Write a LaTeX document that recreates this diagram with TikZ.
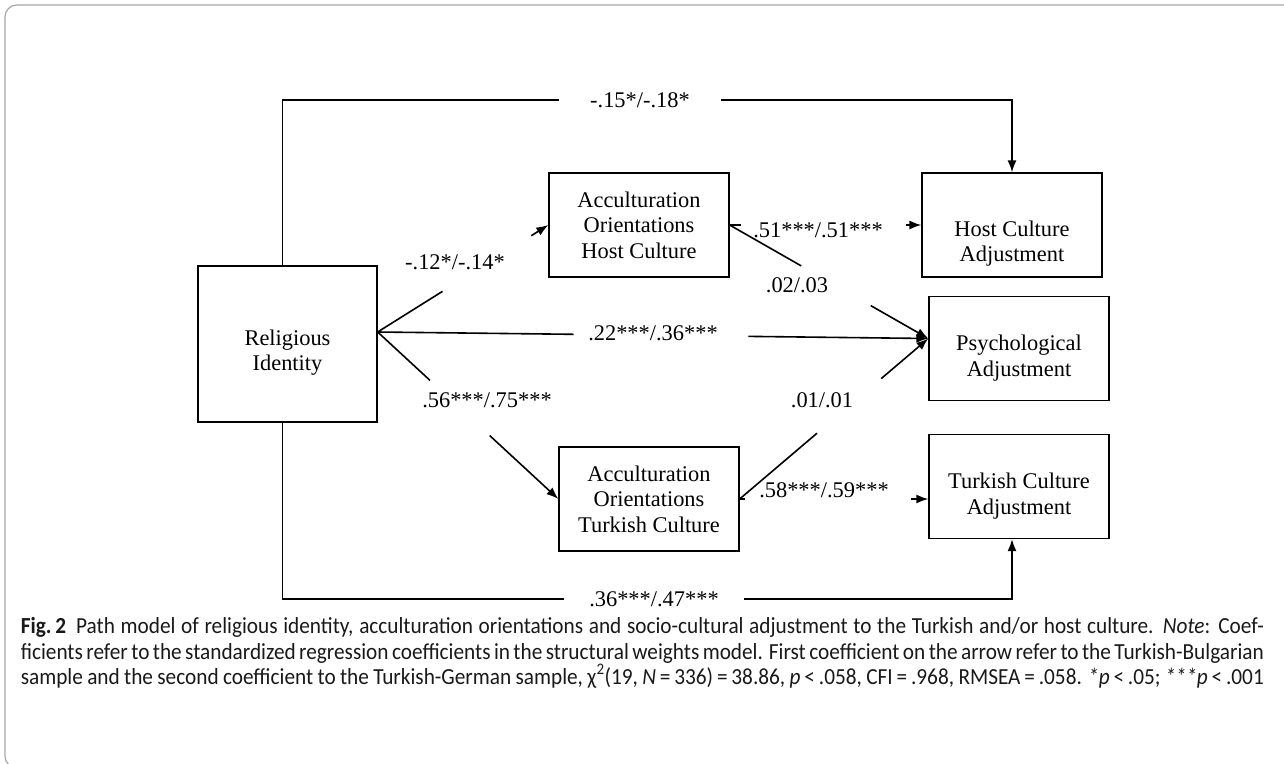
\documentclass[tikz,border=0pt]{standalone}
\usepackage{fontspec}
\setmainfont{Liberation Serif}
\newfontfamily\capfont[FakeStretch=0.925]{Carlito}
\usetikzlibrary{arrows.meta,calc}

\tikzset{
  var/.style={rectangle, draw, line width=1.3pt, align=center,
    minimum width=180pt, minimum height=104pt, inner sep=0pt},
  coef/.style={inner sep=0pt},
  arr/.style={-{Latex[length=12pt,width=9pt]}},
  capline/.style={anchor=base west, inner sep=0pt, text=black!90,
    font=\capfont\fontsize{23}{25}\selectfont}
}

\begin{document}
\begin{tikzpicture}[x=1pt, y=-1pt, line width=1.6pt,
    font=\fontsize{22.4}{25.5}\selectfont]
    \useasboundingbox (0,0) rectangle (1284,763);
    \draw[gray!70, line width=1.2pt, rounded corners=12pt] (5,5) rectangle (1300,768);

    \node[var, minimum width=179pt, minimum height=156pt] (ri) at (287.5,344) {\rule{0pt}{33pt}Religious\\Identity};
    \node[var] (ah) at (639,225) {Acculturation\\Orientations\\Host Culture};
    \node[var] (at) at (649,499) {Acculturation\\Orientations\\Turkish Culture};
    \node[var] (ha) at (1012,225) {\rule{0pt}{53pt}Host Culture\\Adjustment};
    \node[var] (psy) at (1019,348.5) {\rule{0pt}{35pt}Psychological\\Adjustment};
    \node[var] (ta) at (1019,486.5) {\rule{0pt}{35pt}Turkish Culture\\Adjustment};

    \coordinate (fan) at ($(ri.east)+(0,-12)$);
    \coordinate (pin) at ($(psy.west)+(0,-10)$);
    \coordinate (hain) at (ah.east -| ha.west);
    \coordinate (tain) at (at.east -| ta.west);

    \node[coef] (l12) at (455,262) {-.12*/-.14*};
    \node[coef] (l22) at (653,333) {.22***/.36***};
    \node[coef] (l56) at (487,400) {.56***/.75***};
    \node[coef] (l51) at (818,230) {.51***/.51***};
    \node[coef] (l02) at (797,285) {.02/.03};
    \node[coef] (l01) at (822,400) {.01/.01};
    \node[coef] (l58) at (824,490) {.58***/.59***};
    \node[coef, inner xsep=30pt] (lt) at (640,100) {-.15*/-.18*};
    \node[coef, inner xsep=24pt] (lb) at (654,599) {.36***/.47***};

    \draw (fan) -- ($(fan)!.38!(ah.west)$);
    \draw[arr] ($(fan)!.9!(ah.west)$) -- (ah.west);
    \draw (fan) -- ($(fan)!.356!(pin)$);
    \draw[arr] ($(fan)!.673!(pin)$) -- (pin);
    \draw (fan) -- ($(fan)!.29!(at.west)$);
    \draw[arr] ($(fan)!.62!(at.west)$) -- (at.west);

    \draw (ah.east) -- ($(ah.east)!.06!(hain)$);
    \draw[arr] ($(ah.east)!.92!(hain)$) -- (hain);
    \draw (ah.east) -- ($(ah.east)!.36!(pin)$);
    \draw[arr] ($(ah.east)!.71!(pin)$) -- (pin);
    \draw (at.east) -- ($(at.east)!.41!(pin)$);
    \draw[arr] ($(at.east)!.75!(pin)$) -- (pin);
    \draw (at.east) -- ($(at.east)!.03!(tain)$);
    \draw[arr] ($(at.east)!.91!(tain)$) -- (tain);

    \draw ($(ri.north)+(-5,0)$) |- (lt);
    \draw[arr] (lt) -| (ha.north);
    \draw ($(ri.south)+(-5,0)$) |- (lb);
    \draw[arr] (lb) -| ($(ta.south)+(-7,0)$);

    \node[capline] (cap1) at (20,633) {\makebox[1243pt][s]{\mbox{\textbf{Fig.\,2}}\hspace{10pt}Path model of religious identity, acculturation orientations and socio-cultural adjustment to the Turkish and/or host culture. \textit{Note}: Coef-}};
    \node[capline] (cap2) at (20,659) {\makebox[1243pt][s]{ficients refer to the standardized regression coefficients in the structural weights model. First coefficient on the arrow refer to the Turkish-Bulgarian}};
    \node[capline] (cap3) at (20,684) {\makebox[1243pt][s]{sample and the second coefficient to the Turkish-German sample, χ\textsuperscript{2}(19, \textit{N}\,=\,336)\,=\,38.86, \textit{p}\,<\,.058, CFI\,=\,.968, RMSEA\,=\,.058. \textit{*p}\,<\,.05; \textit{***p}\,<\,.001}};
\end{tikzpicture}
\end{document}
